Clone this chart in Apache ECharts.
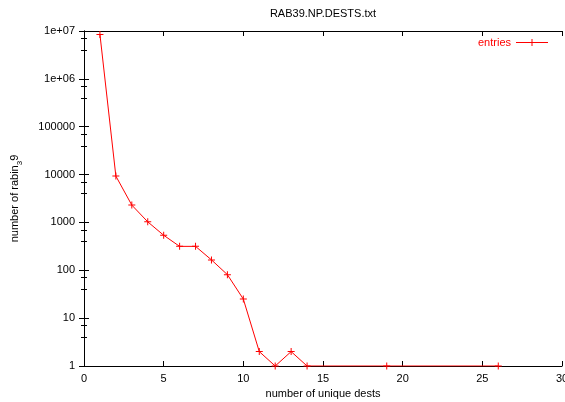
<!DOCTYPE html>
<html>
<head>
<meta charset="utf-8">
<script src="https://cdn.jsdelivr.net/npm/echarts@6/dist/echarts.min.js"></script>
<style>html,body{margin:0;padding:0;background:#fff}#c{width:565px;height:402px}</style>
</head>
<body>
<div id="c"></div>
<script>
const titleText = 'RAB39.NP.DESTS.txt';
const seriesName = 'entries';
const xs = [1, 2, 3, 4, 5, 6, 7, 8, 9, 10, 11, 12, 13, 14, 19, 26];
const counts = [8500000, 9300, 2300, 1030, 540, 316, 316, 165, 81, 25, 2, 1, 2, 1, 1, 1];
const yTickLabels = {1: '1', 10: '10', 100: '100', 1000: '1000', 10000: '10000', 100000: '100000', 1000000: '1e+06', 10000000: '1e+07'};

const FONT = 'Liberation Sans';
const plus = 'path://M0,3H7V4H0Z M3,0H4V7H3Z';
const legendIcon = 'path://M0,3H32V4H0Z M15.5,0H16.5V7H15.5Z';

const chart = echarts.init(document.getElementById('c'), null, {renderer: 'canvas'});
const axisLine = {show: true, lineStyle: {color: '#000', width: 1}};
chart.setOption({
  animation: false,
  backgroundColor: '#fff',
  title: {
    text: titleText, left: 323, top: 8, textAlign: 'center', padding: 0,
    textStyle: {fontFamily: FONT, fontSize: 11, fontWeight: 'normal', color: '#000'}
  },
  legend: {
    data: [{name: seriesName, icon: legendIcon}],
    right: 12, top: 32, align: 'right', itemWidth: 32, itemHeight: 7, itemGap: 6,
    textStyle: {fontFamily: FONT, fontSize: 11, color: '#ff0000'}
  },
  grid: {left: 84, right: 3, top: 31, bottom: 36, outerBoundsMode: 'none', containLabel: false},
  xAxis: [{
    type: 'value', min: 0, max: 30, interval: 5, position: 'bottom',
    name: 'number of unique dests', nameLocation: 'middle', nameGap: 21,
    nameTextStyle: {fontFamily: FONT, fontSize: 11, color: '#000'},
    axisLine: axisLine,
    axisTick: {inside: true, length: 5, lineStyle: {color: '#000'}},
    axisLabel: {fontFamily: FONT, fontSize: 11, color: '#000', margin: 7},
    splitLine: {show: false}
  }, {
    type: 'value', min: 0, max: 30, interval: 5, position: 'top',
    axisLine: axisLine,
    axisTick: {inside: true, length: 5, lineStyle: {color: '#000'}},
    axisLabel: {show: false},
    splitLine: {show: false}
  }],
  yAxis: [{
    type: 'log', logBase: 10, min: 1, max: 10000000, position: 'left',
    name: '{n|number of rabin}{sub|3}{n|9}', nameLocation: 'middle', nameGap: 59, nameRotate: 90,
    nameTextStyle: {fontFamily: FONT, fontSize: 11, color: '#000',
      rich: {
        n: {fontFamily: FONT, fontSize: 11, color: '#000', lineHeight: 16, verticalAlign: 'top', padding: [0, 0, 0, 0]},
        sub: {fontFamily: FONT, fontSize: 8, color: '#000', lineHeight: 16, verticalAlign: 'top', padding: [7, 0, 0, 0]}
      }},
    axisLine: axisLine,
    axisTick: {inside: true, length: 5, lineStyle: {color: '#000'}},
    minorTick: {show: true, splitNumber: 3, length: 3, lineStyle: {color: '#000'}},
    axisLabel: {fontFamily: FONT, fontSize: 11, color: '#000', margin: 9,
      formatter: v => yTickLabels[Math.round(v)] || ''},
    splitLine: {show: false}
  }, {
    type: 'log', logBase: 10, min: 1, max: 10000000, position: 'right',
    axisLine: axisLine,
    axisTick: {inside: true, length: 5, lineStyle: {color: '#000'}},
    minorTick: {show: true, splitNumber: 3, length: 3, lineStyle: {color: '#000'}},
    axisLabel: {show: false},
    splitLine: {show: false}
  }],
  series: [{
    name: seriesName, type: 'line',
    data: xs.map((x, i) => [x, counts[i]]),
    symbol: plus, symbolSize: 7, showAllSymbol: true,
    lineStyle: {color: '#ff0000', width: 1},
    itemStyle: {color: '#ff0000'},
    color: '#ff0000'
  }]
});
</script>
</body>
</html>
